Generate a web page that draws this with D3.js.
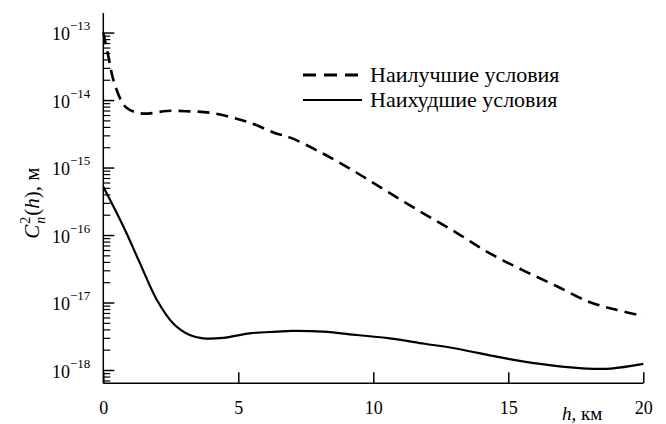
<!DOCTYPE html>
<html>
<head>
<meta charset="utf-8">
<script src="https://cdn.jsdelivr.net/npm/d3@7"></script>
</head>
<body style="margin:0;background:#fff">
<svg id="chart" width="666" height="424" font-family="Liberation Serif" style="display:block;background:#fff"></svg>
<script>
// ---- data ----
const xTicks = [0, 5, 10, 15, 20];
const yDecades = [-18, -17, -16, -15, -14, -13];
const seriesNames = ["Наилучшие условия", "Наихудшие условия"];

const bestH = [0, 0.19, 0.37, 0.68, 0.87, 1.24, 1.66, 2.35, 3.2, 3.95, 4.7, 5.45, 6.4, 6.9, 8.15, 9.4, 10.6, 11.85, 13.1, 14.3, 15.55, 16.8, 18.0, 19.0, 20];
const bestC = [1.0e-13, 4.4e-14, 2.0e-14, 9.5e-15, 7.6e-15, 6.5e-15, 6.3e-15, 6.9e-15, 6.8e-15, 6.5e-15, 5.6e-15, 4.6e-15, 3.2e-15, 2.8e-15, 1.6e-15, 8.3e-16, 4.2e-16, 2.1e-16, 1.07e-16, 5.4e-17, 3.0e-17, 1.74e-17, 1.02e-17, 7.8e-18, 6.3e-18];

const worstH = [0, 0.74, 1.36, 1.98, 2.59, 3.2, 3.7, 4.44, 5.43, 6.42, 7.0, 8.15, 9.4, 10.6, 11.9, 13.0, 15.05, 16.6, 17.9, 18.8, 20];
const worstC = [5.2e-16, 1.35e-16, 3.8e-17, 1.1e-17, 4.9e-18, 3.3e-18, 2.95e-18, 3.0e-18, 3.5e-18, 3.7e-18, 3.8e-18, 3.7e-18, 3.3e-18, 2.95e-18, 2.45e-18, 2.1e-18, 1.45e-18, 1.17e-18, 1.05e-18, 1.05e-18, 1.23e-18];

// ---- layout ----
const FONT = "Liberation Serif";
const svg = d3.select("#chart");
const x0 = 103.3, x1 = 643.3, yTop = 13, yBot = 383.3;
const x = d3.scaleLinear().domain([0, 20]).range([x0, x1]);
const y = d3.scaleLog().domain([Math.pow(10, -12.71), Math.pow(10, -18.197)]).range([yTop, yBot]);

// ---- axes ----
const gx = svg.append("g").attr("transform", `translate(0,${yBot})`)
  .call(d3.axisBottom(x).tickValues(xTicks).tickSize(-11).tickSizeOuter(0).tickPadding(18).tickFormat(d3.format("d")));
gx.attr("font-size", 18).attr("font-family", FONT);
gx.select(".domain").attr("stroke", "#000").attr("stroke-width", 1.5).attr("d", `M${x0},0H${x1}`);
gx.selectAll(".tick line").attr("stroke", "#000").attr("stroke-width", 1.5);

const minorVals = [];
yDecades.concat([-19]).forEach(k => {
  for (let m = 2; m <= 9; m++) {
    const v = m * Math.pow(10, k);
    if (v > y.domain()[1] && v < y.domain()[0]) minorVals.push(v);
  }
});
const gyMinor = svg.append("g").attr("transform", `translate(${x0},0)`)
  .call(d3.axisLeft(y).tickValues(minorVals).tickSize(-7).tickFormat(""));
gyMinor.select(".domain").remove();
gyMinor.selectAll(".tick line").attr("stroke", "#000").attr("stroke-width", 1.2);
gyMinor.selectAll(".tick text").remove();

const gy = svg.append("g").attr("transform", `translate(${x0},0)`)
  .call(d3.axisLeft(y).tickValues(yDecades.map(k => Math.pow(10, k))).tickSize(-11).tickSizeOuter(0).tickPadding(13).tickFormat(""));
gy.attr("font-size", 18).attr("font-family", FONT);
gy.select(".domain").attr("stroke", "#000").attr("stroke-width", 1.5).attr("d", `M0,${yTop}V${yBot}`);
gy.selectAll(".tick line").attr("stroke", "#000").attr("stroke-width", 1.5);
gy.selectAll(".tick text").each(function(d) {
  const t = d3.select(this).attr("dy", "0.4em");
  const k = Math.round(Math.log10(d));
  t.append("tspan").text("10");
  t.append("tspan").attr("font-size", 13).attr("dy", -10).text("\u2212" + Math.abs(k));
});

// ---- curves ----
const line = d3.line().x(d => x(d[0])).y(d => y(d[1])).curve(d3.curveCatmullRom.alpha(0.5));
const best = bestH.map((h, i) => [h, bestC[i]]);
const worst = worstH.map((h, i) => [h, worstC[i]]);

svg.append("path").datum(best).attr("d", line)
  .attr("fill", "none").attr("stroke", "#000").attr("stroke-width", 2.6).attr("stroke-dasharray", "12,7");
svg.append("path").datum(worst).attr("d", line)
  .attr("fill", "none").attr("stroke", "#000").attr("stroke-width", 2.2);

// ---- legend ----
const leg = svg.append("g").attr("font-family", FONT);
[0, 1].forEach(i => {
  const ly = 75 + i * 25;
  leg.append("line").attr("x1", 303).attr("x2", 362).attr("y1", ly).attr("y2", ly)
    .attr("stroke", "#000").attr("stroke-width", i === 0 ? 2.8 : 2.2)
    .attr("stroke-dasharray", i === 0 ? "13,8" : null);
  leg.append("text").attr("x", 370).attr("y", ly + 7).attr("font-size", 22).text(seriesNames[i]);
});

// ---- axis titles ----
const yl = svg.append("text").attr("transform", "translate(39,203) rotate(-90)")
  .attr("text-anchor", "middle").attr("font-size", 21);
yl.append("tspan").attr("font-style", "italic").text("C");
yl.append("tspan").attr("font-size", 14).attr("dy", -9).attr("dx", 1).text("2");
yl.append("tspan").attr("font-size", 14).attr("font-style", "italic").attr("dy", 15).attr("dx", -7).text("n");
yl.append("tspan").attr("dy", -6).attr("dx", 1).text("(");
yl.append("tspan").attr("font-style", "italic").text("h");
yl.append("tspan").text("), м");

const xl = svg.append("text").attr("x", 562).attr("y", 420).attr("font-size", 19);
xl.append("tspan").attr("font-style", "italic").text("h");
xl.append("tspan").text(", км");

svg.selectAll("text").attr("font-family", FONT).style("font-family", '"Liberation Serif"').attr("fill", "#000");
</script>
</body>
</html>
